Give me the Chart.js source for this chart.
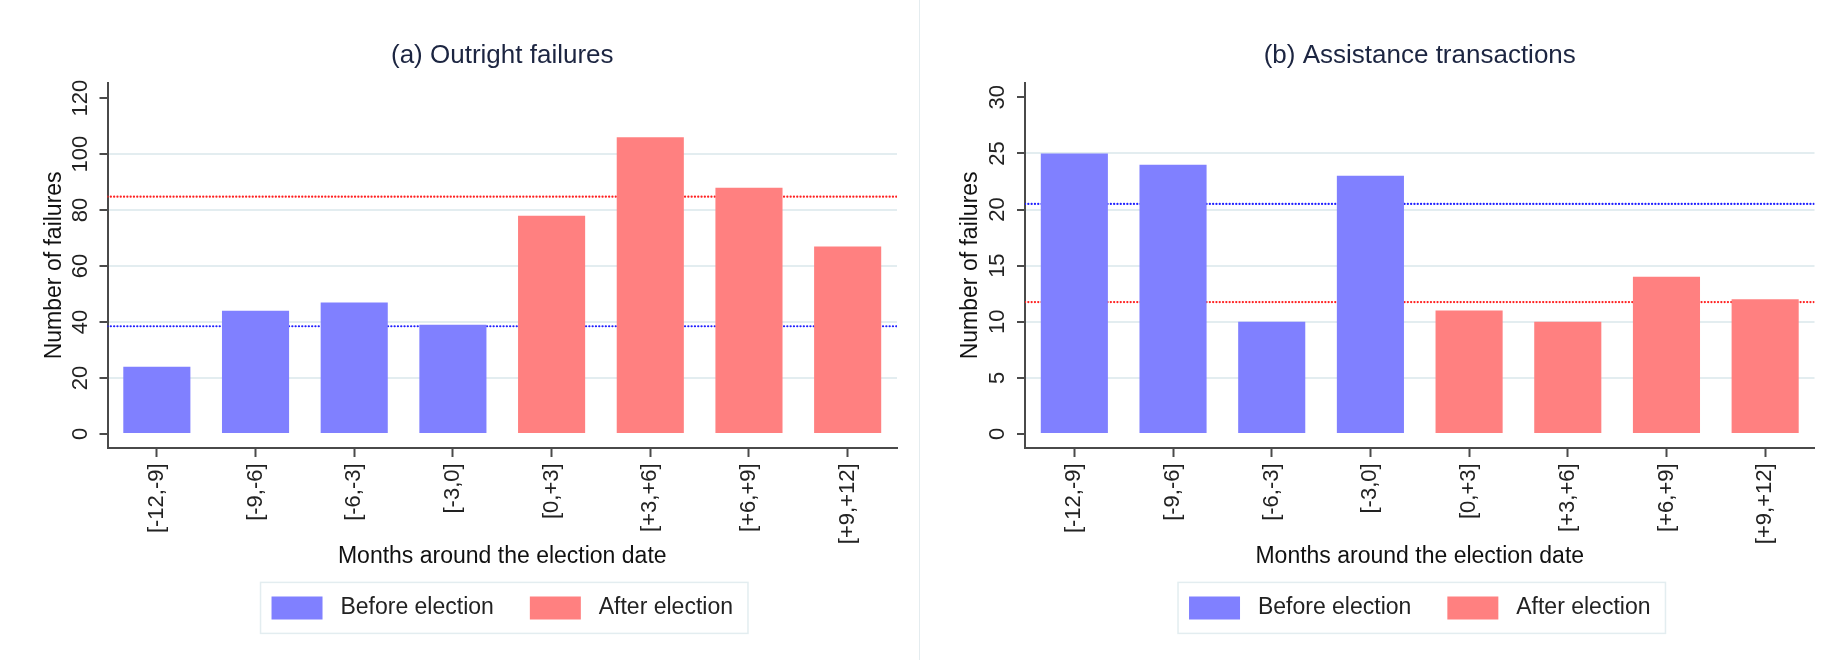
<!DOCTYPE html>
<html lang="en">
<head>
<meta charset="UTF-8">
<title>Bank failures around elections</title>
<script src="https://cdn.jsdelivr.net/npm/chart.js"></script>
<style>
  body { margin: 0; background: #fff; }
  #wrap { display: flex; width: 1831px; height: 660px; }
  #divider { width: 1px; background: #e4ecef; }
</style>
</head>
<body>
<div id="wrap">
  <canvas id="outright" width="919" height="660"></canvas>
  <div id="divider"></div>
  <canvas id="assist" width="911" height="660"></canvas>
</div>
<script>
// values
const periods = ["[-12,-9]", "[-9,-6]", "[-6,-3]", "[-3,0]", "[0,+3]", "[+3,+6]", "[+6,+9]", "[+9,+12]"];
const outrightBefore = [24, 44, 47, 39, null, null, null, null];
const outrightAfter = [null, null, null, null, 78, 106, 88, 67];
const assistBefore = [25, 24, 10, 23, null, null, null, null];
const assistAfter = [null, null, null, null, 11, 10, 14, 12];
// dotted average lines: [before, after]
const outrightMeans = [38.5, 84.8];
const assistMeans = [20.5, 11.75];

Chart.defaults.font.family = "'Liberation Sans', Arial, sans-serif";
Chart.defaults.color = '#222';

const BLUE_BAR = '#8080ff';
const RED_BAR = '#ff8080';
const GRID = '#e3edf0';
const AXIS = '#4a4a4a';

// light frame around the legend (Stata style)
const legendFrame = {
    id: 'legendFrame',
    afterDraw(chart) {
        const boxes = chart.legend.legendHitBoxes;
        if (!boxes || !boxes.length) return;
        const left = Math.min(...boxes.map(b => b.left)) - 11;
        const right = Math.max(...boxes.map(b => b.left + b.width)) + 15;
        const top = boxes[0].top - 14;
        const bottom = boxes[0].top + boxes[0].height + 14;
        const ctx = chart.ctx;
        ctx.save();
        ctx.strokeStyle = GRID;
        ctx.lineWidth = 1.5;
        ctx.strokeRect(left, top, right - left, bottom - top);
        ctx.restore();
    }
};

function meanLine(label, value, color) {
    return {
        type: 'line',
        label,
        xAxisID: 'xLine',
        data: [{ x: 0, y: value }, { x: 1, y: value }],
        borderColor: color,
        borderWidth: 2.2,
        borderDash: [0.1, 3.2],
        borderCapStyle: 'round',
        pointRadius: 0,
        fill: false,
        order: 2,
    };
}

function failureChart(canvasId, title, before, after, means, ax) {
    return new Chart(document.getElementById(canvasId), {
        type: 'bar',
        data: {
            labels: periods,
            datasets: [
                { label: 'Before election', data: before, backgroundColor: BLUE_BAR, borderColor: BLUE_BAR, borderWidth: 0, order: 1 },
                { label: 'After election', data: after, backgroundColor: RED_BAR, borderColor: RED_BAR, borderWidth: 0, order: 1 },
                meanLine('Mean before', means[0], '#2020ff'),
                meanLine('Mean after', means[1], '#ff2020'),
            ],
        },
        options: {
            responsive: false,
            animation: false,
            layout: { padding: { top: 0, left: 0, right: ax.padRight, bottom: 30.6 } },
            // each period has exactly one bar, so no grouping side by side
            datasets: { bar: { grouped: false, categoryPercentage: 1, barPercentage: 0.68 } },
            plugins: {
                title: {
                    display: true,
                    text: title,
                    fullSize: false,
                    color: '#1c2541',
                    font: { size: 26, weight: 'normal' },
                    padding: { top: 40.4, bottom: 11.1 },
                },
                legend: {
                    position: 'bottom',
                    fullSize: false,
                    labels: {
                        boxWidth: 51,
                        boxHeight: 23,
                        padding: 36,
                        color: '#222',
                        font: { size: 23 },
                        generateLabels: chart => Chart.defaults.plugins.legend.labels.generateLabels(chart)
                            .map(item => ({ ...item, text: ' ' + item.text })),
                        filter: item => item.datasetIndex < 2,
                    },
                },
                tooltip: { enabled: false },
            },
            scales: {
                x: {
                    grid: { display: true, drawOnChartArea: false, offset: false, tickLength: 9, tickColor: AXIS, tickWidth: 2 },
                    border: { color: AXIS, width: 2 },
                    ticks: { minRotation: 90, maxRotation: 90, padding: 6.4, autoSkip: false, color: '#222', font: { size: 22 } },
                    title: {
                        display: true,
                        text: 'Months around the election date',
                        color: '#111',
                        font: { size: 23 },
                        padding: { top: 0, bottom: -10.4 },
                    },
                    afterFit: scale => { scale.height = 112.4; },
                },
                xLine: { type: 'linear', display: false, offset: false, min: 0, max: 1 },
                y: {
                    min: ax.min,
                    max: ax.max,
                    border: { color: AXIS, width: 2 },
                    grid: {
                        color: c => (c.tick.value === 0 || c.tick.value === ax.top) ? 'rgba(0,0,0,0)' : GRID,
                        lineWidth: 2,
                        tickLength: 8,
                        tickColor: AXIS,
                        tickWidth: 2,
                    },
                    ticks: {
                        stepSize: ax.step,
                        includeBounds: false,
                        minRotation: 90,
                        maxRotation: 90,
                        crossAlign: 'center',
                        padding: ax.tickPad,
                        color: '#222',
                        font: { size: 22 },
                    },
                    title: {
                        display: true,
                        text: 'Number of failures',
                        color: '#111',
                        font: { size: 23 },
                        padding: { top: ax.titlePad, bottom: 0 },
                    },
                    afterFit: scale => { scale.width = ax.width; },
                },
            },
        },
        plugins: [legendFrame],
    });
}

failureChart('outright', '(a) Outright failures', outrightBefore, outrightAfter, outrightMeans,
    { min: -5, max: 125.5, step: 20, top: 120, width: 107.5, tickPad: 0, titlePad: 41.2, padRight: 22 });

failureChart('assist', '(b) Assistance transactions', assistBefore, assistAfter, assistMeans,
    { min: -1.25, max: 31.3, step: 5, top: 30, width: 105, tickPad: 6.8, titlePad: 36.5, padRight: 16.5 });
</script>
</body>
</html>
